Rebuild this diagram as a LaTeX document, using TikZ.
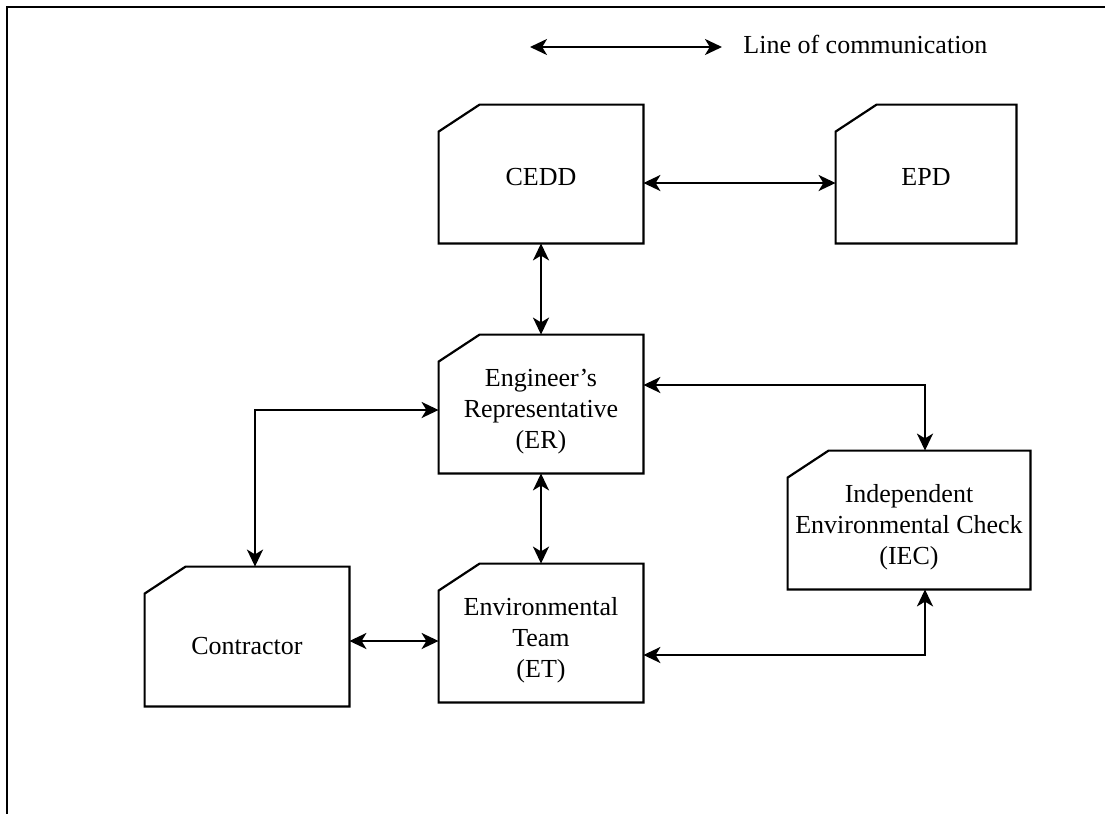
\documentclass[tikz,border=0pt]{standalone}
\usepackage{fontspec}
\setmainfont{Liberation Serif}
\usetikzlibrary{arrows.meta}
\tikzset{
  box/.style={rectangle, inner sep=0pt,
    minimum width=102pt, minimum height=69pt},
  txt/.style={align=center, inner sep=0pt, font=\fontsize{13}{15.5}\selectfont},
  tip/.tip={Stealth[length=8.5pt,width=8pt,inset=2.4pt]},
  lc/.style={line width=1.15pt, tip-tip},
  outline/.style={line width=1.1pt, line join=miter},
}
\newcommand{\chambox}[1]{\draw[outline] (#1.south west) -- ([yshift=-13.5pt]#1.north west) -- ([xshift=20.5pt]#1.north west) -- (#1.north east) -- (#1.south east) -- cycle;}
\begin{document}
\begin{tikzpicture}[x=0.5pt,y=-0.5pt]
\useasboundingbox (0,0) rectangle (1105,814);
% frame
\draw[line width=1.1pt] (7,814) -- (7,7) -- (1105,7);
% legend
\coordinate (la) at (530,47);
\coordinate (lb) at (722,47);
\draw[lc] (la) -- (lb);
\node[txt, anchor=base west] (lt) at (743,53) {Line of communication};
% boxes
\node[box, label={[txt,yshift=-1.5pt]center:CEDD}] (CEDD) at (541,174) {};
\node[box, minimum width=90pt, label={[txt,yshift=-1.5pt]center:EPD}] (EPD) at (926,174) {};
\node[box, label={[txt,yshift=-4pt]center:Engineer's\\Representative\\(ER)}] (ER) at (541,404) {};
\node[box, label={[txt,yshift=-3.5pt]center:Environmental\\Team\\(ET)}] (ET) at (541,633) {};
\node[box, minimum height=69.5pt, label={[txt,yshift=-5pt]center:Contractor}] (Con) at (247,636.5) {};
\node[box, minimum width=121pt, label={[txt,yshift=-3.5pt]center:Independent\\Environmental Check\\(IEC)}] (IEC) at (909,520) {};
\foreach \n in {CEDD,EPD,ER,ET,Con,IEC} {\chambox{\n}}
% connectors
\draw[lc] ([yshift=-4.5pt]CEDD.east) -- ([yshift=-4.5pt]CEDD.east -| EPD.west);
\draw[lc] (CEDD.south) -- (ER.north);
\draw[lc] (ER.south) -- (ET.north);
\draw[lc] ([yshift=-3pt]ER.west) -| ([xshift=4pt]Con.north);
\draw[lc] ([yshift=9.5pt]ER.east) -| ([xshift=8pt]IEC.north);
\draw[lc] ([xshift=8pt]IEC.south) |- ([yshift=-11pt]ET.east);
\draw[lc] ([yshift=-4pt]ET.west) -- ([yshift=-4pt]ET.west -| Con.east);
\end{tikzpicture}
\end{document}
